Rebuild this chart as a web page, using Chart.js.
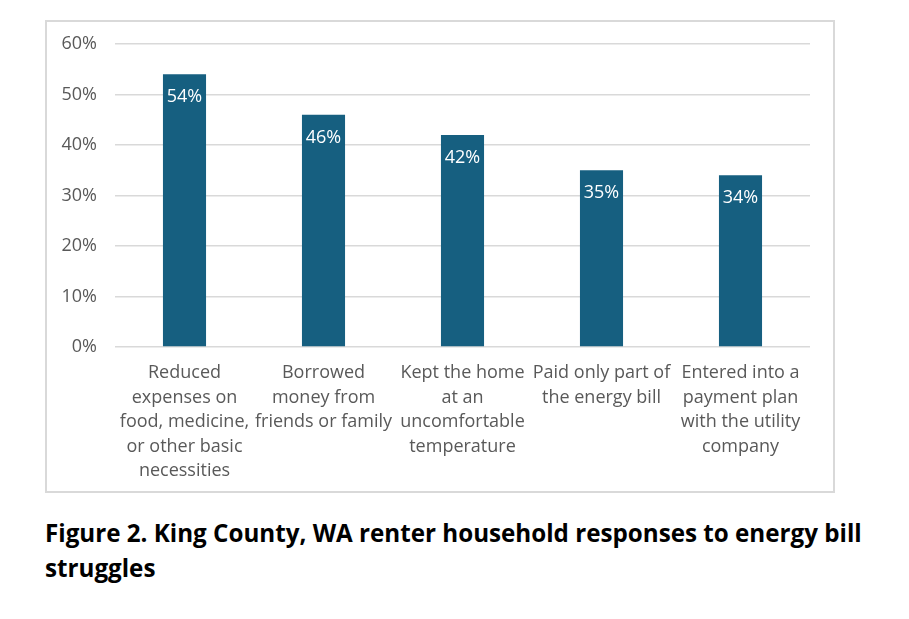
<!DOCTYPE html>
<html>
<head>
<meta charset="utf-8">
<script src="https://cdn.jsdelivr.net/npm/chart.js@4.4.1/dist/chart.umd.min.js"></script>
<style>
  html, body { margin: 0; padding: 0; background: #fff; }
  #box {
    position: absolute; left: 45px; top: 20px;
    width: 786px; height: 469px;
    border: 2px solid #d9d9d9;
  }
  #caption {
    position: absolute; left: 45px; top: 515px;
    font-family: "Open Sans", sans-serif; font-weight: bold;
    font-size: 24.2px; line-height: 35px; color: #000;
    white-space: nowrap;
  }
</style>
</head>
<body>
<div id="box"><canvas id="chart"></canvas></div>
<div id="caption">Figure 2. King County, WA renter household responses to energy bill<br>struggles</div>
<script>
// categories (multi-line tick labels) and values in percent
const categories = [
    ['Reduced', 'expenses on', 'food, medicine,', 'or other basic', 'necessities'],
    ['Borrowed', 'money from', 'friends or family'],
    ['Kept the home', 'at an', 'uncomfortable', 'temperature'],
    ['Paid only part of', 'the energy bill'],
    ['Entered into a', 'payment plan', 'with the utility', 'company']
];
const responseShare = [54, 46, 42, 35, 34];
const yTicks = [0, 10, 20, 30, 40, 50, 60];

const fontFamily = '"Open Sans", sans-serif';

// value labels inside bar tops
const barLabels = {
    id: 'barLabels',
    afterDatasetsDraw(chart) {
        const ctx = chart.ctx;
        const meta = chart.getDatasetMeta(0);
        ctx.save();
        ctx.fillStyle = '#ffffff';
        ctx.font = '18px ' + fontFamily;
        ctx.textAlign = 'center';
        ctx.textBaseline = 'middle';
        meta.data.forEach(function (bar, i) {
            ctx.fillText(responseShare[i] + '%', bar.x, bar.y + 23);
        });
        ctx.restore();
    }
};

new Chart(document.getElementById('chart'), {
    type: 'bar',
    data: {
        labels: categories,
        datasets: [{
            data: responseShare,
            backgroundColor: '#165f80',
            categoryPercentage: 1,
            barPercentage: 0.31
        }]
    },
    options: {
        responsive: true,
        maintainAspectRatio: false,
        animation: false,
        layout: { padding: { top: 22, right: 23, left: 0, bottom: 0 } },
        plugins: {
            legend: { display: false },
            tooltip: { enabled: false }
        },
        scales: {
            x: {
                grid: { display: false, drawTicks: false },
                border: { display: false },
                ticks: {
                    color: '#595959',
                    padding: 14,
                    maxRotation: 0,
                    autoSkip: false,
                    font: { family: fontFamily, size: 18, lineHeight: 1.36 }
                },
                afterFit(scale) { scale.height = 144; }
            },
            y: {
                min: 0,
                max: 60,
                afterBuildTicks(scale) {
                    scale.ticks = yTicks.map(v => ({ value: v }));
                },
                grid: { color: '#d9d9d9', lineWidth: 1.5, drawTicks: false },
                border: { display: false },
                ticks: {
                    color: '#595959',
                    padding: 18,
                    font: { family: fontFamily, size: 18 },
                    callback: v => v + '%'
                },
                afterFit(scale) {
                    scale.width = 68;
                    scale.paddingTop = 0;
                    scale.paddingBottom = 0;
                }
            }
        }
    },
    plugins: [barLabels]
});
</script>
</body>
</html>
